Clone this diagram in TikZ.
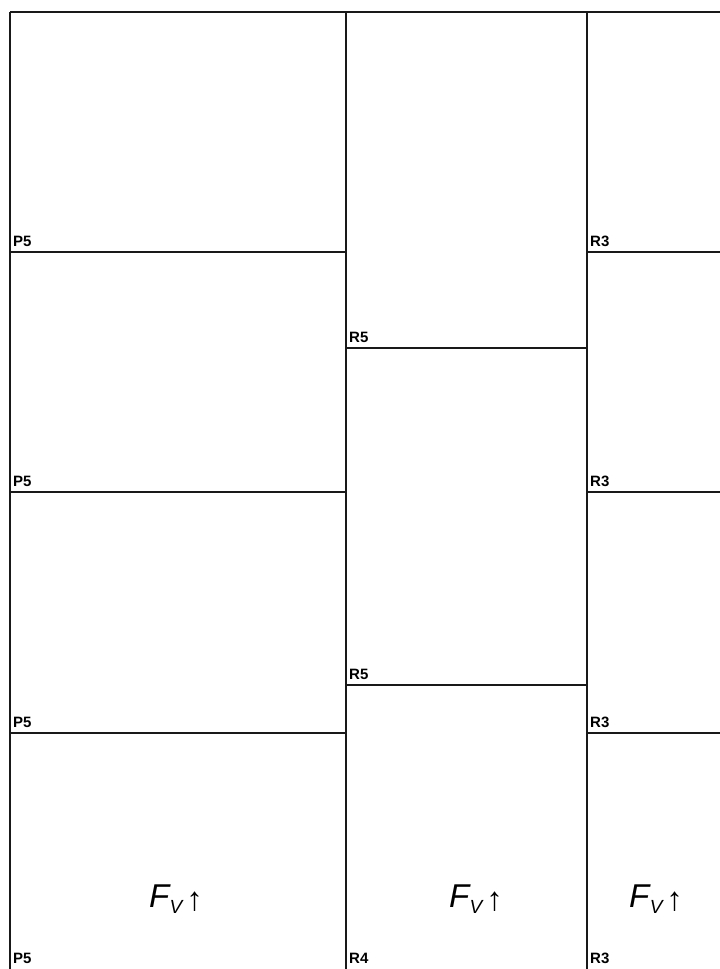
\documentclass[tikz,border=0pt]{standalone}
\usepackage{fontspec}
\setmainfont{Liberation Sans}
\usetikzlibrary{positioning}

\newcommand{\fvup}{{\itshape F\kern0.5pt\raisebox{-6pt}{\fontsize{19}{19}\selectfont V}}\kern4pt\raisebox{-3pt}{↑}}

\begin{document}
\begin{tikzpicture}[x=1pt, y=-1pt,
   wall/.style={line width=1.5pt, black!90},
   lbl/.style={font=\bfseries\fontsize{15}{15}\selectfont, anchor=base west, inner sep=0pt},
   force/.style={font=\fontsize{33}{33}\selectfont, inner sep=0pt}]
   \useasboundingbox (0,0) rectangle (720,969);

   % coords
   \coordinate (TL) at (10, 12);
   \coordinate (TR) at (720, 12);
   \coordinate (BL) at (10, 969);
   \coordinate (TM) at (346, 12);
   \coordinate (BM) at (346, 969);
   \coordinate (TN) at (587, 12);
   \coordinate (BN) at (587, 969);

   % outline and columns
   \draw[wall] (TL) -- (TR);
   \draw[wall] (TL) -- (BL);
   \draw[wall] (TM) -- (BM);
   \draw[wall] (TN) -- (BN);

   % left column
   \foreach \y in {252, 492, 733}{%
      \draw[wall] (10,\y) -- (346,\y);
      \node[lbl] at (13,\y-6) {P5};
   }
   \node[lbl] (P5b) at (13,963) {P5};

   % middle column
   \foreach \y in {348, 685}{%
      \draw[wall] (346,\y) -- (587,\y);
      \node[lbl] at (349,\y-6) {R5};
   }
   \node[lbl] (R4b) at (349,963) {R4};

   % right column
   \foreach \y in {252, 492, 733}{%
      \draw[wall] (587,\y) -- (720,\y);
      \node[lbl] at (590,\y-6) {R3};
   }
   \node[lbl] (R3b) at (590,963) {R3};

   % forces
   \node[force] (FL) at (176,899) {\fvup};
   \node[force] (FM) at (476,899) {\fvup};
   \node[force] (FR) at (656,899) {\fvup};
\end{tikzpicture}
\end{document}
